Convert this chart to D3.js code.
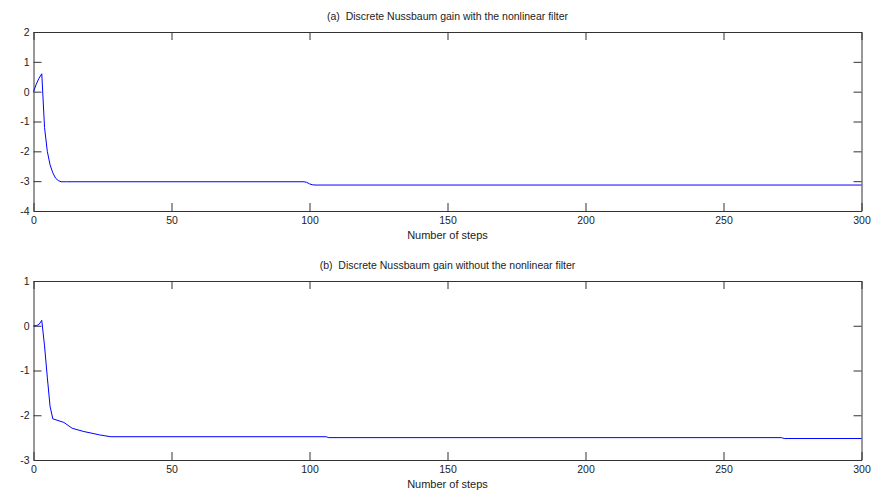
<!DOCTYPE html>
<html lang="en">
<head>
<meta charset="utf-8" />
<title>Discrete Nussbaum gain</title>
<style>
  body { margin: 0; background: #fff; }
  svg { display: block; }
  text { font-family: "Liberation Sans", Arial, sans-serif; fill: #222; }
</style>
</head>
<body>
<script src="https://cdn.jsdelivr.net/npm/d3@7"></script>
<script>
  // (a) with the nonlinear filter: key points
  var stepsA = [0, 1, 2, 3, 4, 5, 6, 7, 8, 9, 10, 12, 98, 99, 100, 101, 102, 300];
  var gainA = [0, 0.25, 0.45, 0.6, -1.2, -2.0, -2.45, -2.72, -2.9, -2.98, -3.02, -3.02, -3.02, -3.04, -3.09, -3.12, -3.13, -3.13];

  // (b) without the nonlinear filter
  var stepsB = [0, 1, 2, 3, 4, 5, 6, 7, 11, 14, 18, 24, 28, 106, 107, 271, 272, 300];
  var gainB = [0, 0, 0.03, 0.12, -0.45, -1.15, -1.8, -2.08, -2.16, -2.29, -2.36, -2.44, -2.48, -2.48, -2.5, -2.5, -2.52, -2.52];

  var xTicks = [0, 50, 100, 150, 200, 250, 300];
  var yTicksA = [-4, -3, -2, -1, 0, 1, 2];
  var yTicksB = [-3, -2, -1, 0, 1];

  var titleA = "(a)  Discrete Nussbaum gain with the nonlinear filter";
  var titleB = "(b)  Discrete Nussbaum gain without the nonlinear filter";
  var xLabel = "Number of steps";

  var W = 872, H = 491;
  var svg = d3.select("body").append("svg")
      .attr("width", W)
      .attr("height", H);

  var left = 33.5, right = 861.5;
  var fmt = d => String(d);  // plain hyphen minus like the original

  function panel(top, bottom, steps, gain, yDomain, yTicks, title) {
    var x = d3.scaleLinear([0, 300], [left, right]);
    var y = d3.scaleLinear(yDomain, [bottom, top]);
    var g = svg.append("g");

    // axes with inward ticks, box on
    var tick = 8;
    var axB = g.append("g").attr("transform", `translate(0,${bottom})`)
        .call(d3.axisBottom(x).tickValues(xTicks).tickSizeInner(-tick).tickSizeOuter(0).tickPadding(4).tickFormat(fmt));
    var axT = g.append("g").attr("transform", `translate(0,${top})`)
        .call(d3.axisTop(x).tickValues(xTicks).tickSizeInner(-tick).tickSizeOuter(0).tickFormat(""));
    var axL = g.append("g").attr("transform", `translate(${left},0)`)
        .call(d3.axisLeft(y).tickValues(yTicks).tickSizeInner(-tick).tickSizeOuter(0).tickPadding(4).tickFormat(fmt));
    var axR = g.append("g").attr("transform", `translate(${right},0)`)
        .call(d3.axisRight(y).tickValues(yTicks).tickSizeInner(-tick).tickSizeOuter(0).tickFormat(""));

    [axB, axT, axL, axR].forEach(a => {
      a.selectAll(".domain").attr("stroke", "#333");
      a.selectAll(".tick line").attr("stroke", "#333");
      a.selectAll(".tick text")
          .style("font-family", "'Liberation Sans', Arial, sans-serif")
          .style("font-size", "10.5px")
          .attr("fill", "#222");
    });
    axB.selectAll(".tick text").attr("dy", "0.85em");

    var line = d3.line()
        .x((d, i) => x(steps[i]))
        .y(d => y(d));

    g.append("path")
        .datum(gain)
        .attr("fill", "none")
        .attr("stroke", "#0000ff")
        .attr("stroke-width", 1)
        .attr("d", line);

    g.append("text")
        .attr("x", (left + right) / 2)
        .attr("y", top - 12)
        .attr("text-anchor", "middle")
        .style("font-size", "10.5px")
        .style("white-space", "pre")
        .text(title);

    g.append("text")
        .attr("x", (left + right) / 2)
        .attr("y", bottom + 28)
        .attr("text-anchor", "middle")
        .style("font-size", "11px")
        .text(xLabel);
  }

  panel(32, 211, stepsA, gainA, [-4, 2], yTicksA, titleA);
  panel(281, 460, stepsB, gainB, [-3, 1], yTicksB, titleB);
</script>
</body>
</html>
